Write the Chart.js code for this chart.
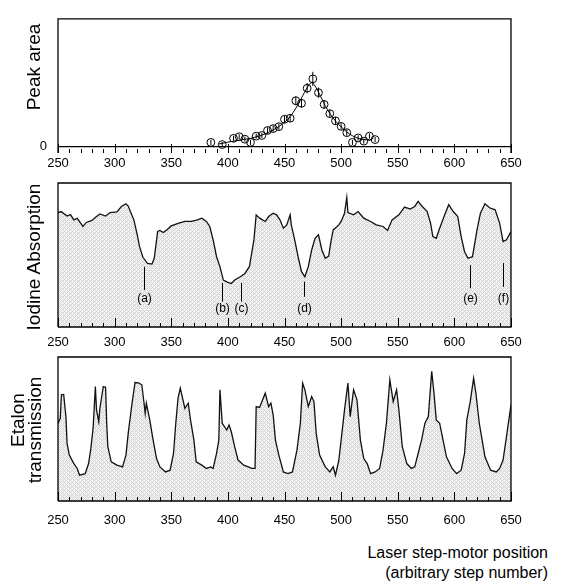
<!DOCTYPE html>
<html lang="en">
<head>
<meta charset="UTF-8">
<title>Laser step-motor scan</title>
<script src="https://cdn.jsdelivr.net/npm/chart.js"></script>
<style>
    body { margin: 0; background: #fff; width: 565px; height: 587px; position: relative; overflow: hidden;
           font-family: "Liberation Sans", Arial, sans-serif; color: #000; }
    canvas { position: absolute; left: 0; }
    .ytitle { position: absolute; font-size: 19px; white-space: nowrap; transform: translate(-50%, -50%) rotate(-90deg); }
    #xtitle { position: absolute; right: 17px; top: 543px; text-align: right; font-size: 16px; line-height: 20px; }
</style>
</head>
<body>
<canvas id="peakChart" width="565" height="175" style="top:0"></canvas>
<canvas id="iodineChart" width="565" height="175" style="top:175px"></canvas>
<canvas id="etalonChart" width="565" height="190" style="top:350px"></canvas>

<div class="ytitle" style="left:34px; top:67px">Peak area</div>
<div class="ytitle" style="left:34px; top:257px">Iodine Absorption</div>
<div class="ytitle" style="left:18px; top:420px">Etalon</div>
<div class="ytitle" style="left:35px; top:430px">transmission</div>
<div id="xtitle">Laser step-motor position<br>(arbitrary step number)</div>

<script>
    // x axis: step-motor position
    const tickLabels = [250, 300, 350, 400, 450, 500, 550, 600, 650];

    // peak area (circles with error bars) and the fitted curve
    const peakX = [385, 395, 405, 410, 415, 420, 425, 430, 435, 440, 445, 450, 455, 460,
                   465, 470, 475, 480, 485, 490, 495, 500, 505, 510, 515, 520, 525, 530];
    const peakY = [0.033, 0.016, 0.065, 0.077, 0.058, 0.033, 0.082, 0.087, 0.126, 0.141, 0.156, 0.214, 0.222, 0.359,
                   0.339, 0.457, 0.530, 0.422, 0.330, 0.258, 0.202, 0.158, 0.109, 0.033, 0.068, 0.043, 0.082, 0.055];
    const peakErr = [0.02, 0.02, 0.02, 0.02, 0.02, 0.02, 0.02, 0.02, 0.025, 0.025, 0.025, 0.03, 0.03, 0.035,
                     0.035, 0.04, 0.055, 0.04, 0.035, 0.03, 0.03, 0.025, 0.025, 0.02, 0.02, 0.02, 0.02, 0.02];
    const fitX = [392, 400, 410, 420, 430, 440, 450, 455, 460, 465, 470, 474, 478, 482, 486, 490, 495, 500, 505, 510, 515, 520, 526];
    const fitY = [0.02, 0.035, 0.05, 0.065, 0.09, 0.13, 0.19, 0.235, 0.30, 0.38, 0.46, 0.50, 0.46, 0.39, 0.32, 0.26,
                  0.20, 0.155, 0.115, 0.085, 0.065, 0.055, 0.05];

    // iodine absorption trace (0-100 = bottom-top of panel)
    const iodineX = [250, 253, 258, 261, 264, 267, 272, 275, 280, 284,
                     287, 292, 296, 302, 306, 310, 312, 314, 317, 320,
                     322, 325, 329, 333, 335, 338, 340, 343, 346, 350,
                     356, 362, 368, 373, 377, 381, 384, 387, 390, 393,
                     396, 399, 403, 406, 411, 415, 419, 421, 423, 425,
                     428, 433, 436, 440, 443, 446, 449, 452, 455, 456,
                     459, 462, 465, 468, 471, 474, 477, 480, 483, 486,
                     489, 491, 493, 498, 500, 503, 505, 506, 511, 515,
                     520, 526, 531, 537, 541, 545, 551, 556, 561, 565,
                     568, 571, 576, 579, 581, 584, 587, 592, 595, 599,
                     603, 606, 609, 612, 616, 620, 623, 627, 631, 636,
                     640, 643, 646, 650];
    const iodineY = [79.5, 80, 77, 78, 74.4, 75.5, 69.8, 72.6, 74, 76.7,
                     78.5, 77, 79.5, 80, 83.7, 85.6, 84, 80, 74.4, 64,
                     55.8, 48.4, 44.2, 43.7, 47.7, 66.3, 67, 65.6, 67.4, 70.2,
                     72, 73.3, 73.3, 74.4, 75.6, 73.3, 69.8, 60.5, 48.8, 41.9,
                     32.6, 31.4, 30.2, 32.6, 34.9, 37.2, 41.9, 51.2, 60.5, 77.9,
                     75.6, 73.3, 76.7, 79, 77.9, 74.4, 68.6, 70.9, 78, 70.9,
                     60.5, 48.8, 38.4, 34.9, 41.9, 53.5, 61.6, 64, 53.5, 47.7,
                     49.3, 59.3, 67.4, 70.9, 73.3, 79, 90, 79.5, 77.9, 80.2,
                     75.6, 73.3, 70.9, 69.8, 67, 74.4, 77.9, 83.3, 81.9, 83.7,
                     87.2, 84.2, 80.2, 72, 62.8, 61.6, 68.6, 79, 84.9, 80.2,
                     76.7, 62.8, 52.3, 47.7, 48.8, 67.4, 79, 85.6, 82.8, 81.4,
                     72, 59.3, 60.5, 66.3];

    // labelled absorption lines
    const markText = ['(a)', '(b)', '(c)', '(d)', '(e)', '(f)'];
    const markX = [326, 395, 412, 467.5, 614, 643];
    const markTop = [41.9, 30.5, 30.5, 31.5, 43, 44.4];
    const markBottom = [25.7, 17.6, 17.6, 21, 27, 27.8];
    const markTextY = [19.4, 12.5, 12.5, 12.5, 19.4, 19.4];

    // etalon transmission trace
    const etalonX = [250, 252, 253, 255, 257, 258, 260, 264, 267, 269,
                     274, 277, 279, 281, 283, 284, 286, 287, 290, 292,
                     293, 294, 297, 302, 307, 310, 312, 315, 318, 321,
                     324, 326, 327, 328, 331, 334, 337, 340, 345, 349,
                     352, 354, 356, 358, 360, 362, 365, 367, 370, 372,
                     377, 381, 385, 387, 390, 392, 393, 395, 399, 401,
                     403, 406, 409, 414, 418, 421, 424, 425, 428, 430,
                     433, 436, 438, 440, 442, 445, 449, 453, 457, 461,
                     464, 466, 468, 471, 474, 476, 478, 481, 486, 490,
                     493, 495, 498, 500, 503, 506, 508, 511, 514, 517,
                     520, 523, 526, 530, 534, 537, 540, 543, 546, 549,
                     551, 554, 558, 562, 565, 568, 571, 574, 577, 580,
                     582, 584, 587, 590, 593, 598, 602, 606, 609, 611,
                     614, 617, 619, 622, 624, 627, 632, 637, 640, 643,
                     646, 650];
    const etalonY = [54, 57.4, 73.7, 74, 58.6, 40, 31.9, 26, 22.6, 17.9,
                     19, 26, 36.5, 50.5, 79.5, 63.3, 55.1, 64.4, 79.5, 79,
                     54, 37.7, 27.2, 24.9, 23.7, 31.9, 47, 65.6, 82.3, 82,
                     80.7, 67.9, 60.9, 67.9, 56.3, 42.3, 29.5, 23.7, 20.2, 21.4,
                     33, 54, 71.4, 78.4, 71.4, 64.4, 67.9, 56.3, 42.3, 27.2,
                     24.9, 22.6, 23.7, 22.6, 33, 42.3, 77.2, 54, 49.3, 52.8,
                     48.1, 37.7, 28.4, 24.9, 23.7, 22.6, 22.6, 65.6, 65, 69,
                     74.9, 65.6, 68, 59.8, 42.3, 31.9, 20.2, 19, 20.2, 35.3,
                     54, 81.9, 77.2, 65.6, 72.6, 69, 47, 31.9, 23.7, 20.2,
                     23.7, 17.9, 28.4, 42.3, 63.3, 81.9, 58.6, 77.2, 70.2, 42.3,
                     29.5, 26, 19, 20.2, 22.6, 35.3, 54, 84.2, 69, 77.2,
                     63.3, 37.7, 26, 22.6, 23.7, 33, 42.3, 54, 58.6, 90,
                     74.9, 56.3, 54, 42.3, 30.7, 22.6, 19, 21.4, 33, 56.3,
                     69, 85.3, 74.9, 54, 44.7, 30.7, 21.4, 20.2, 22.6, 28.4,
                     44.7, 66.7];

    const FONT = '"Liberation Sans", Arial, sans-serif';
    Chart.defaults.font.family = FONT;
    Chart.defaults.color = '#000';

    // light cross-hatch used under the traces
    function hatchPattern() {
        const c = document.createElement('canvas');
        c.width = 4; c.height = 4;
        const g = c.getContext('2d');
        g.fillStyle = '#f3f3f3';
        g.fillRect(0, 0, 4, 4);
        g.fillStyle = '#d2d2d2';
        for (let y = 0; y < 4; y++) {
            for (let x = 0; x < 4; x++) {
                if ((x + y) % 4 === 0 || ((x - y) + 4) % 4 === 0) g.fillRect(x, y, 1, 1);
            }
        }
        return g.createPattern(c, 'repeat');
    }

    // box around the plot area plus inward tick marks every 10 steps
    const framePlugin = {
        id: 'frame',
        afterDatasetsDraw(chart, args, opts) {
            const { ctx, chartArea: a } = chart;
            const xs = chart.scales.x;
            ctx.save();
            ctx.strokeStyle = '#000';
            ctx.lineWidth = 1.3;
            ctx.beginPath();
            ctx.moveTo(a.left, a.bottom);
            ctx.lineTo(a.left, a.top);
            ctx.lineTo(a.right, a.top);
            ctx.lineTo(a.right, a.bottom);
            if (!opts.noBottom) ctx.lineTo(a.left, a.bottom);
            ctx.stroke();
            ctx.lineWidth = 1;
            ctx.beginPath();
            for (let v = 250; v <= 650; v += 10) {
                const px = Math.round(xs.getPixelForValue(v)) + 0.5;
                const len = tickLabels.includes(v) ? 9 : 4;
                ctx.moveTo(px, a.bottom);
                ctx.lineTo(px, a.bottom - len);
            }
            ctx.stroke();
            ctx.restore();
        }
    };

    const errorBarPlugin = {
        id: 'errorBars',
        afterDatasetsDraw(chart) {
            const { ctx, scales: { x, y } } = chart;
            ctx.save();
            ctx.strokeStyle = '#000';
            ctx.lineWidth = 1;
            ctx.beginPath();
            peakX.forEach((v, i) => {
                const px = x.getPixelForValue(v);
                ctx.moveTo(px, y.getPixelForValue(peakY[i] + peakErr[i]));
                ctx.lineTo(px, y.getPixelForValue(peakY[i] - peakErr[i]));
            });
            ctx.stroke();
            ctx.restore();
        }
    };

    const markerPlugin = {
        id: 'markers',
        afterDatasetsDraw(chart) {
            const { ctx, scales: { x, y } } = chart;
            ctx.save();
            ctx.strokeStyle = '#000';
            ctx.lineWidth = 1;
            ctx.fillStyle = '#000';
            ctx.font = '12px ' + FONT;
            ctx.textAlign = 'center';
            ctx.textBaseline = 'middle';
            markX.forEach((v, i) => {
                const px = Math.round(x.getPixelForValue(v)) + 0.5;
                ctx.beginPath();
                ctx.moveTo(px, y.getPixelForValue(markTop[i]));
                ctx.lineTo(px, y.getPixelForValue(markBottom[i]));
                ctx.stroke();
                ctx.fillText(markText[i], px, y.getPixelForValue(markTextY[i]));
            });
            ctx.restore();
        }
    };

    function xScale(axisHeight, labelPad) {
        return {
            type: 'linear',
            min: 250,
            max: 650,
            afterBuildTicks: axis => { axis.ticks = tickLabels.map(v => ({ value: v })); },
            afterFit: axis => { axis.height = axisHeight; },
            grid: { display: false, drawTicks: false },
            border: { display: false },
            ticks: { autoSkip: false, maxRotation: 0, padding: labelPad, font: { size: 13 } }
        };
    }

    function traceChart(id, xs, ys, topPad, axisHeight, labelPad, extraPlugins) {
        new Chart(document.getElementById(id), {
            type: 'line',
            data: {
                datasets: [{
                    data: xs.map((x, i) => ({ x: x, y: ys[i] })),
                    borderColor: '#111',
                    borderWidth: 1.3,
                    pointRadius: 0,
                    tension: 0,
                    fill: 'start',
                    backgroundColor: hatchPattern()
                }]
            },
            options: {
                responsive: false,
                animation: false,
                layout: { padding: { top: topPad, right: 54, left: 0, bottom: 0 } },
                plugins: { legend: { display: false }, tooltip: { enabled: false }, frame: {} },
                scales: {
                    x: xScale(axisHeight, labelPad),
                    y: {
                        min: 0,
                        max: 100,
                        afterFit: axis => { axis.width = 58; },
                        grid: { display: false, drawTicks: false },
                        border: { display: false },
                        ticks: { display: false }
                    }
                }
            },
            plugins: [framePlugin].concat(extraPlugins)
        });
    }

    // top panel: peak area
    new Chart(document.getElementById('peakChart'), {
        type: 'line',
        data: {
            datasets: [{
                data: fitX.map((x, i) => ({ x: x, y: fitY[i] })),
                borderColor: '#000',
                borderWidth: 1,
                pointRadius: 0,
                tension: 0.4,
                cubicInterpolationMode: 'monotone'
            }, {
                data: peakX.map((x, i) => ({ x: x, y: peakY[i] })),
                showLine: false,
                pointRadius: 3.9,
                pointBorderWidth: 1,
                pointBorderColor: '#000',
                pointBackgroundColor: 'rgba(255,255,255,0)'
            }]
        },
        options: {
            responsive: false,
            animation: false,
            layout: { padding: { top: 10, right: 54, left: 0, bottom: 0 } },
            plugins: { legend: { display: false }, tooltip: { enabled: false }, frame: { noBottom: true } },
            scales: {
                x: xScale(22, 3),
                y: {
                    min: -0.05,
                    max: 1,
                    afterBuildTicks: axis => { axis.ticks = [{ value: 0 }]; },
                    afterFit: axis => { axis.width = 58; },
                    grid: { drawTicks: false, color: '#000', lineWidth: 1.3 },
                    border: { display: false },
                    ticks: { padding: 11, font: { size: 13 } }
                }
            }
        },
        plugins: [framePlugin, errorBarPlugin]
    });

    traceChart('iodineChart', iodineX, iodineY, 8, 23, 8, [markerPlugin]);
    traceChart('etalonChart', etalonX, etalonY, 7, 39, 12, []);
</script>
</body>
</html>
